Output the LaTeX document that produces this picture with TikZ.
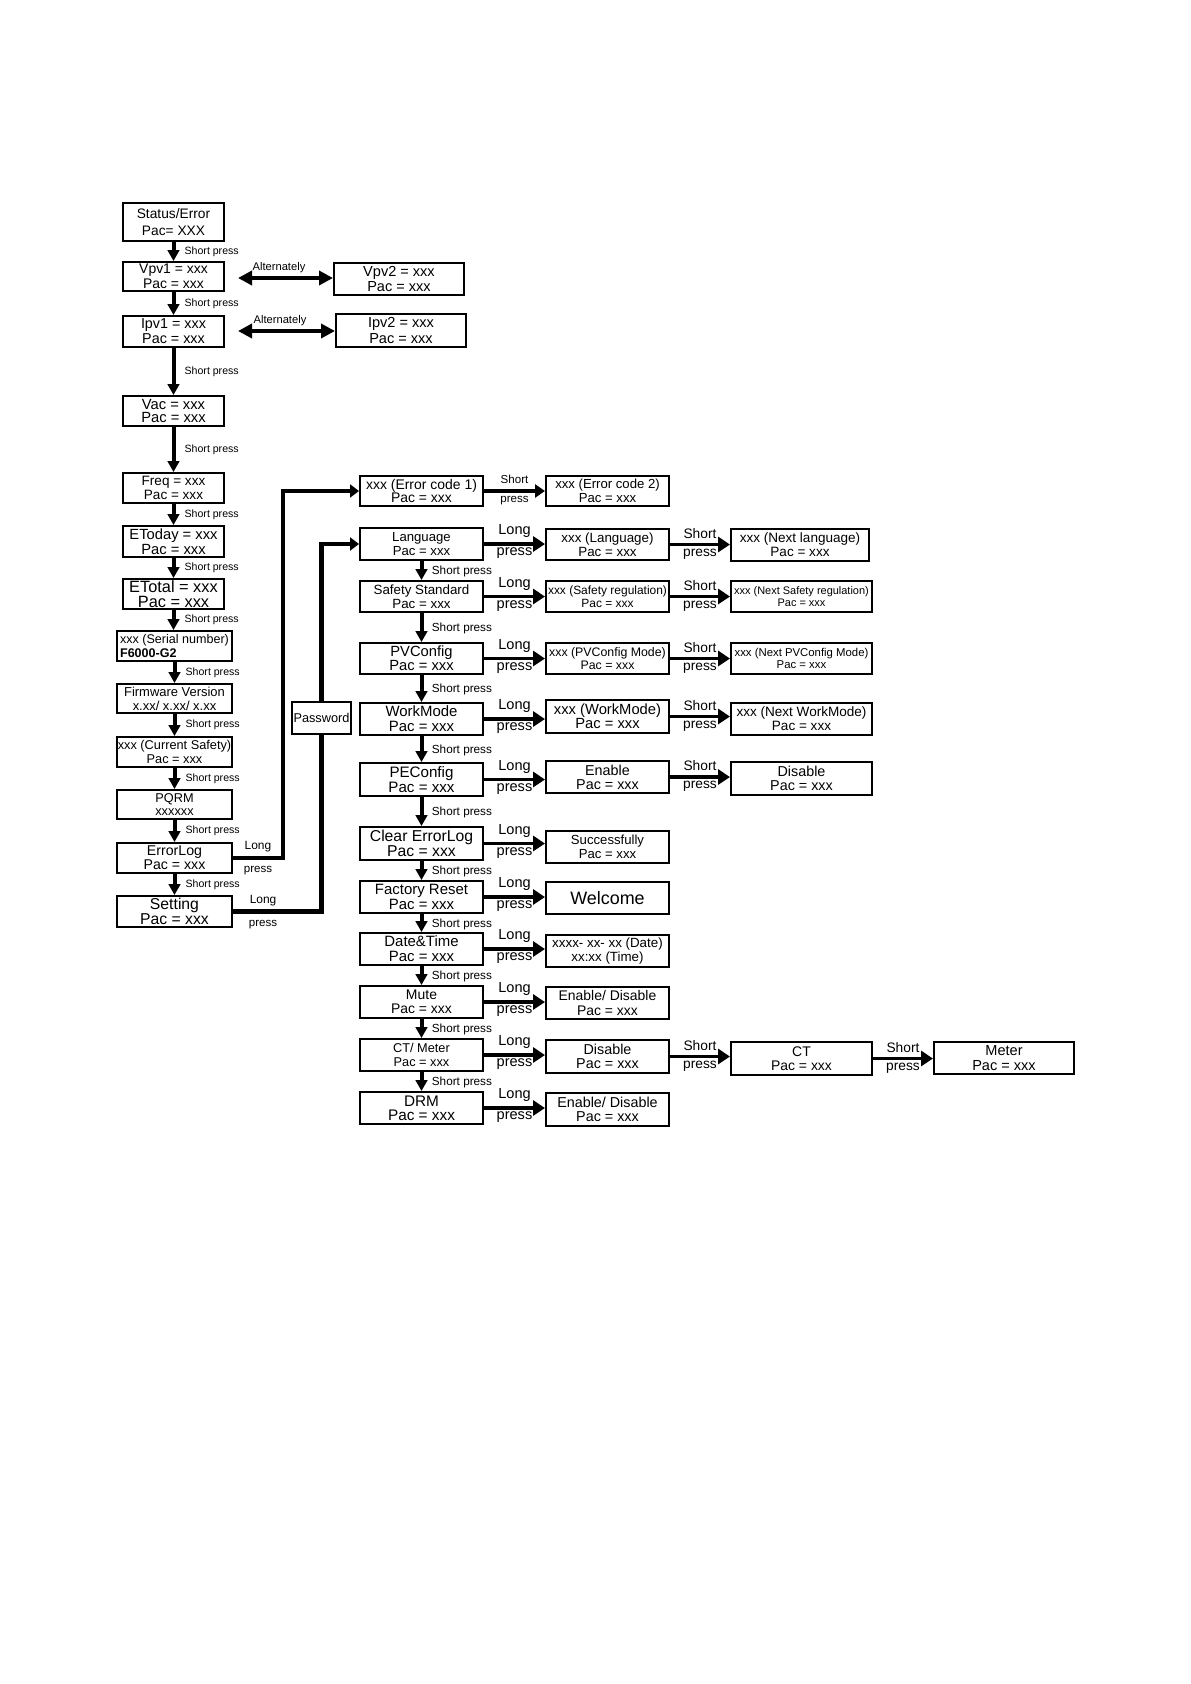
\documentclass[tikz,border=0pt]{standalone}
\usepackage{fontspec}
\setmainfont{Liberation Sans}
\usetikzlibrary{arrows.meta,calc}
\newcommand\fs[2]{\fontsize{#1}{#2}\selectfont}
% box from corner (x1,y1) to (x2,y2), in pixels of the reference
\newcommand\bx[6][]{\node[box,#1, minimum width={(#4-#2)*0.5bp}, minimum height={(#5-#3)*0.5bp}] (#6) at ({(#2+#4)/2},{(#3+#5)/2})}
\begin{document}
\begin{tikzpicture}[x=0.5bp,y=-0.5bp,
  box/.style={draw, line width=1bp, inner sep=0pt, align=center},
  vbar/.style={line width=2bp, -{Triangle[length=5.5bp,width=5.8bp]}},
  hbar/.style={line width=1.9bp, -{Triangle[length=6bp,width=7.5bp]}},
  altbar/.style={line width=2bp, {Triangle[length=7bp,width=7bp]}-{Triangle[length=7bp,width=7bp]}},
  conn/.style={line width=2.3bp},
  slab/.style={font=\fs{5.3}{6}, inner sep=0pt, anchor=west, xshift=4.6bp},
  rlab/.style={font=\fs{5.9}{6.5}, inner sep=0pt, anchor=west, xshift=4.2bp, yshift=-0.5bp},
  lt/.style={font=\fs{7.3}{8}, inner sep=0pt, above=2.2bp},
  lb/.style={font=\fs{7.3}{8}, inner sep=0pt, below=1.1bp},
]
\useasboundingbox (0,0) rectangle (1191,1684);

% ---------- left column ----------
\bx[font=\fs{6.9}{8.5}]{123}{203}{224}{241}{status} {Status/Error\\Pac= XXX};
\bx[font=\fs{7}{7.3}]{123}{262}{224}{291}{vpv1} {Vpv1 = xxx\\Pac = xxx};
\bx[font=\fs{7.3}{7.8}]{334}{263}{464}{295}{vpv2} {Vpv2 = xxx\\Pac = xxx};
\bx[font=\fs{7.2}{7.6}]{123}{316}{224}{347}{ipv1} {Ipv1 = xxx\\Pac = xxx};
\bx[font=\fs{7.3}{7.8}]{336}{314}{466}{347}{ipv2} {Ipv2 = xxx\\Pac = xxx};
\bx[font=\fs{7.4}{7}]{123}{396}{224}{426}{vac} {Vac = xxx\\Pac = xxx};
\bx[font=\fs{6.8}{7}]{123}{473}{224}{503}{freq} {Freq = xxx\\Pac = xxx};
\bx[font=\fs{7.4}{7.4}]{123}{526}{224}{557}{etoday} {EToday = xxx\\Pac = xxx};
\bx[font=\fs{8.2}{7.4}]{123}{579}{224}{609}{etotal} {ETotal = xxx\\Pac = xxx};
\bx[font=\fs{6.3}{7}, align=left]{117}{631}{232}{661}{serial} {xxx (Serial number)\\\textbf{F6000-G2}};
\bx[font=\fs{6.5}{7}]{117}{684}{232}{713}{firm} {Firmware Version\\x.xx/ x.xx/ x.xx};
\bx[font=\fs{6.4}{7}]{117}{737}{232}{767}{cursafe} {xxx (Current Safety)\\Pac = xxx};
\bx[font=\fs{6.4}{6.8}]{117}{790}{232}{819}{pqrm} {PQRM\\xxxxxx};
\bx[font=\fs{7.1}{7.2}]{117}{843}{232}{873}{errlog} {ErrorLog\\Pac = xxx};
\bx[font=\fs{7.9}{7.4}]{117}{896}{232}{927}{setting} {Setting\\Pac = xxx};
\bx[font=\fs{6.4}{7}]{292}{702}{351}{734}{password} {Password};

% ---------- right columns ----------
\bx[font=\fs{7}{7}]{360}{476}{483}{506}{err1} {xxx (Error code 1)\\Pac = xxx};
\bx[font=\fs{6.6}{7}]{546}{476}{669}{506}{err2} {xxx (Error code 2)\\Pac = xxx};

\bx[font=\fs{6.6}{7}]{360}{528}{483}{560}{lang} {Language\\Pac = xxx};
\bx[font=\fs{6.7}{7}]{546}{529}{669}{560}{langv} {xxx (Language)\\Pac = xxx};
\bx[font=\fs{6.8}{7}]{731}{529}{869}{561}{langn} {xxx (Next language)\\Pac = xxx};

\bx[font=\fs{6.7}{7}]{360}{581}{483}{612}{safety} {Safety Standard\\Pac = xxx};
\bx[font=\fs{6}{6.6}]{546}{581}{669}{612}{safetyv} {xxx (Safety regulation)\\Pac = xxx};
\bx[font=\fs{5.5}{6}]{731}{581}{872}{612}{safetyn} {xxx (Next Safety regulation)\\Pac = xxx};

\bx[font=\fs{7.4}{7.2}]{360}{643}{483}{674}{pv} {PVConfig\\Pac = xxx};
\bx[font=\fs{6.2}{6.6}]{546}{643}{669}{674}{pvv} {xxx (PVConfig Mode)\\Pac = xxx};
\bx[font=\fs{5.7}{6.2}]{731}{643}{872}{674}{pvn} {xxx (Next PVConfig Mode)\\Pac = xxx};

\bx[font=\fs{7.5}{7.4}]{360}{703}{483}{735}{work} {WorkMode\\Pac = xxx};
\bx[font=\fs{7.4}{7.2}]{546}{700}{669}{733}{workv} {xxx (WorkMode)\\Pac = xxx};
\bx[font=\fs{6.8}{7}]{731}{703}{872}{735}{workn} {xxx (Next WorkMode)\\Pac = xxx};

\bx[font=\fs{7.6}{7.6}]{360}{763}{483}{796}{pe} {PEConfig\\Pac = xxx};
\bx[font=\fs{7.2}{7}]{546}{761}{669}{793}{pev} {Enable\\Pac = xxx};
\bx[font=\fs{7.2}{7.2}]{731}{762}{872}{795}{pen} {Disable\\Pac = xxx};

\bx[font=\fs{7.9}{7.8}]{360}{827}{483}{860}{clear} {Clear ErrorLog\\Pac = xxx};
\bx[font=\fs{6.6}{7}]{546}{831}{669}{863}{clearv} {Successfully\\Pac = xxx};

\bx[font=\fs{7.5}{7.4}]{360}{881}{483}{913}{factory} {Factory Reset\\Pac = xxx};
\bx[font=\fs{9}{10}]{546}{882}{669}{914}{welcome} {Welcome};

\bx[font=\fs{7.5}{7.6}]{360}{933}{483}{965}{date} {Date\&Time\\Pac = xxx};
\bx[font=\fs{6.7}{7}]{546}{935}{669}{967}{datev} {xxxx- xx- xx (Date)\\xx:xx (Time)};

\bx[font=\fs{7}{7.2}]{360}{986}{483}{1018}{mute} {Mute\\Pac = xxx};
\bx[font=\fs{7}{7.2}]{546}{987}{669}{1019}{mutev} {Enable/ Disable\\Pac = xxx};

\bx[font=\fs{6.4}{7}]{360}{1039}{483}{1071}{ctm} {CT/ Meter\\Pac = xxx};
\bx[font=\fs{7.2}{7.2}]{546}{1040}{669}{1073}{ctv} {Disable\\Pac = xxx};
\bx[font=\fs{7}{7.2}]{731}{1042}{872}{1075}{ctn} {CT\\Pac = xxx};
\bx[font=\fs{7.3}{7.2}]{934}{1042}{1074}{1074}{meter} {Meter\\Pac = xxx};

\bx[font=\fs{7.7}{7.2}]{360}{1092}{483}{1124}{drm} {DRM\\Pac = xxx};
\bx[font=\fs{7.2}{7.2}]{546}{1093}{669}{1126}{drmv} {Enable/ Disable\\Pac = xxx};

% ---------- left column arrows ----------
\foreach \a/\b in {status/vpv1, vpv1/ipv1, ipv1/vac, vac/freq, freq/etoday, etoday/etotal,
                   etotal/serial, serial/firm, firm/cursafe, cursafe/pqrm, pqrm/errlog, errlog/setting}
  \draw[vbar] (\a.south) -- node[slab] {Short press} (\a.south |- \b.north);

% alternately
\draw[altbar, shorten <=6.5bp] (vpv1.east |- 0,278) -- node[font=\fs{5.6}{6}, inner sep=0pt, above=1.6bp] {Alternately} (vpv2.west |- 0,278);
\draw[altbar, shorten <=6.5bp] (ipv1.east |- 0,331) -- node[font=\fs{5.6}{6}, inner sep=0pt, above=1.6bp] {Alternately} (ipv2.west |- 0,331);

% ---------- right column arrows ----------
\foreach \a/\b in {lang/safety, safety/pv, pv/work, work/pe, pe/clear, clear/factory,
                   factory/date, date/mute, mute/ctm, ctm/drm}
  \draw[vbar] (\a.south) -- node[rlab] {Short press} (\b.north);

% long press
\foreach \a/\b in {lang/langv, safety/safetyv, pv/pvv, work/workv, pe/pev, clear/clearv,
                   factory/welcome, date/datev, mute/mutev, ctm/ctv, drm/drmv}
  \draw[hbar] (\a.east) -- node[lt] {Long} node[lb] {press} (\a.east -| \b.west);

% short press (horizontal)
\foreach \a/\b in {langv/langn, safetyv/safetyn, pvv/pvn, workv/workn, pev/pen, ctv/ctn, ctn/meter}
  \draw[hbar] (\a.east) -- node[lt, font=\fs{6.9}{7.5}] {Short} node[lb, font=\fs{6.9}{7.5}] {press} (\a.east -| \b.west);

\draw[hbar, line width=1.7bp, -{Triangle[length=5bp,width=6.5bp]}] (err1.east) -- node[lt, font=\fs{5.8}{6.5}, above=0.8bp] {Short} node[lb, font=\fs{5.8}{6.5}, below=0.8bp] {press} (err1.east -| err2.west);

% ---------- long connectors ----------
\coordinate (elbend) at (283,858);
\draw[conn, -{Triangle[length=4.5bp,width=6.5bp]}] (errlog.east) -- node[font=\fs{6}{7}, inner sep=0pt, above=1.8bp] {Long} node[font=\fs{5.8}{7}, inner sep=0pt, below=3bp] {press} (elbend) |- (err1.west);

\draw[conn] (setting.east) -| node[pos=0.17, font=\fs{6}{7}, inner sep=0pt, above=1.8bp] {Long} node[pos=0.17, font=\fs{5.8}{7}, inner sep=0pt, below=3bp] {press} (password.south);
\draw[conn, -{Triangle[length=4.5bp,width=6.5bp]}] (password.north) |- (lang.west);
\end{tikzpicture}
\end{document}
